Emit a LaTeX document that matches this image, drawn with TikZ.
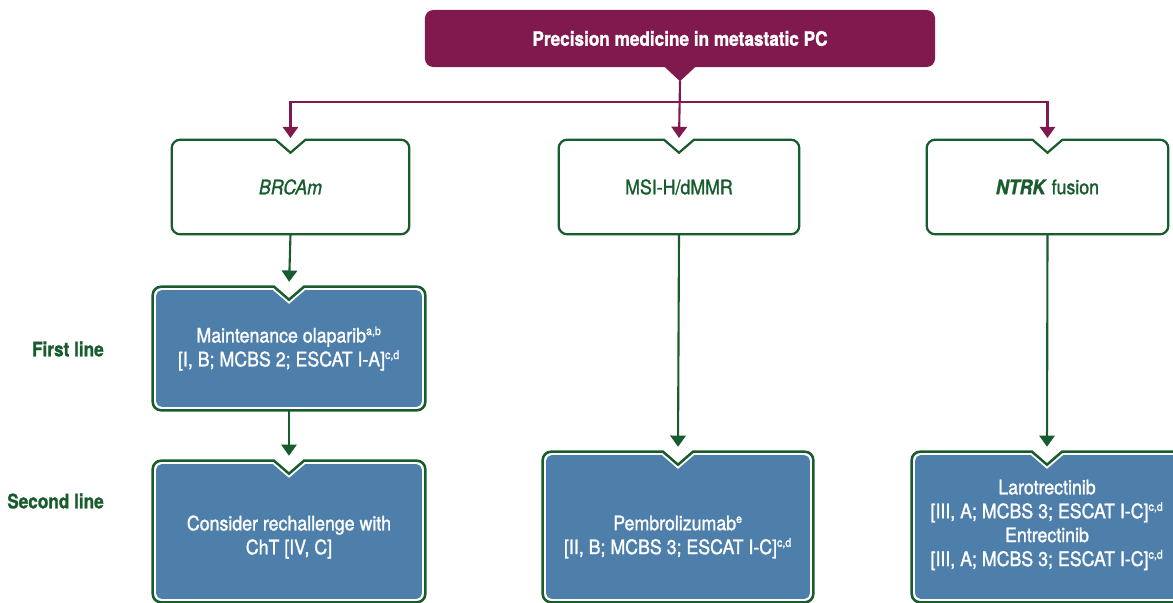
\documentclass[tikz,border=0pt]{standalone}
\usepackage{fontspec}
\setmainfont{TeX Gyre Heros}[FakeStretch=0.89,FakeBold=1.3,BoldFeatures={FakeStretch=0.86}]
\usetikzlibrary{arrows.meta,positioning,calc}
\definecolor{pcpurple}{RGB}{127,25,78}
\definecolor{pcgreen}{RGB}{24,92,46}
\definecolor{pcblue}{RGB}{78,127,171}
\pgfdeclarelayer{background}
\pgfsetlayers{background,main}
\newcommand{\sups}[1]{\textsuperscript{\fontsize{8.5}{8.5}\selectfont #1}}
\newcommand{\notchbox}[4]{
  \path[#3] ($(#1.north)+(-15-0.35*#2,#2)$)
    [rounded corners=#4] -- ($(#1.north west)+(#2,#2)$) -- ($(#1.south west)+(#2,-#2)$)
    -- ($(#1.south east)+(-#2,-#2)$) -- ($(#1.north east)+(-#2,#2)$)
    [sharp corners] -- ($(#1.north)+(15+0.35*#2,#2)$) -- ($(#1.north)+(0,13+1.28*#2)$) -- cycle;
}
\newcommand{\bluebox}[1]{
  \notchbox{#1}{0}{draw=pcgreen,line width=1.8pt,fill=white}{6pt}
  \notchbox{#1}{3.4}{fill=pcblue}{4pt}
}

\begin{document}
\begin{tikzpicture}[x=0.025cm,y=-0.025cm,font=\fontsize{14.2}{17}\selectfont,
  geo/.style={inner sep=0pt,align=center},
  marker/.style={geo,text=pcgreen},
  therapy/.style={geo,text=white},
  rowlabel/.style={anchor=east,inner sep=0pt,text=pcgreen,font=\fontsize{14.2}{17}\selectfont\bfseries},
  purarrow/.style={pcpurple,line width=1.5pt,-{Triangle[width=11pt,length=8pt]},shorten >=1.2pt},
  grnarrow/.style={pcgreen,line width=1.5pt,-{Triangle[width=11pt,length=8pt]},shorten >=3.5pt}]
  \useasboundingbox (0,0) rectangle (1173,603);

  \node[fill=pcpurple,rounded corners=6pt,minimum width=12.75cm,minimum height=1.425cm,
    text=white,font=\fontsize{14.2}{17}\selectfont\bfseries] (title) at (680,38.5) {Precision medicine in metastatic PC};
  \fill[pcpurple] ($(title.south)+(-16,-1)$) -- ($(title.south)+(0,14)$) coordinate (ptr) -- ($(title.south)+(16,-1)$) -- cycle;

  \node[marker,minimum width=5.925cm,minimum height=2.35cm] (brca) at (290.5,187) {\textit{BRCAm}};
  \node[marker,minimum width=6.0cm,minimum height=2.35cm] (msi) at (679,187) {MSI-H/dMMR};
  \node[marker,minimum width=6.025cm,minimum height=2.35cm] (ntrk) at (1047.5,187) {\textbf{\textit{NTRK}} fusion};

  \node[therapy,minimum width=6.8cm,minimum height=3.075cm] (olap) at (289,348.5)
    {Maintenance olaparib\sups{a,b}\\{}[I, B; MCBS 2; ESCAT I-A]\sups{c,d}};

  % second line: boxes run to the lower edge
  \node[geo,minimum width=6.8cm,minimum height=3.525cm] (rech) at (289,531.5) {};
  \node[geo,minimum width=6.75cm,minimum height=3.75cm] (pembro) at (678,527) {};
  \node[geo,minimum width=6.75cm,minimum height=3.75cm] (laro) at (1047,527) {};
  \node[therapy] (rech-txt) at (289,537) {Consider rechallenge with\\ChT [IV, C]};
  \node[therapy] (pembro-txt) at (678,537)
    {Pembrolizumab\sups{e}\\{}[II, B; MCBS 3; ESCAT I-C]\sups{c,d}};
  \node[therapy] (laro-txt) at (1047,525)
    {Larotrectinib\\{}[III, A; MCBS 3; ESCAT I-C]\sups{c,d}\\Entrectinib\\{}[III, A; MCBS 3; ESCAT I-C]\sups{c,d}};

  \node[rowlabel] (first) at (104,349) {First line};
  \node[rowlabel] (second) at (104,501) {Second line};

  \begin{pgfonlayer}{background}
    \notchbox{brca}{0}{draw=pcgreen,line width=1.6pt,fill=white}{6pt}
    \notchbox{msi}{0}{draw=pcgreen,line width=1.6pt,fill=white}{6pt}
    \notchbox{ntrk}{0}{draw=pcgreen,line width=1.6pt,fill=white}{6pt}
    \bluebox{olap}
    \bluebox{rech}
    \bluebox{pembro}
    \bluebox{laro}
  \end{pgfonlayer}

  \draw[purarrow] (ptr) -- (msi.north);
  \draw[purarrow] (ptr) -- ++(0,21) -| (brca.north);
  \draw[purarrow] (ptr) -- ++(0,21) -| (ntrk.north);

  \draw[grnarrow] (brca.south) -- (olap.north);
  \draw[grnarrow] (olap.south) -- (rech.north);
  \draw[grnarrow] (msi.south) -- (pembro.north);
  \draw[grnarrow] (ntrk.south) -- (laro.north);
\end{tikzpicture}
\end{document}
